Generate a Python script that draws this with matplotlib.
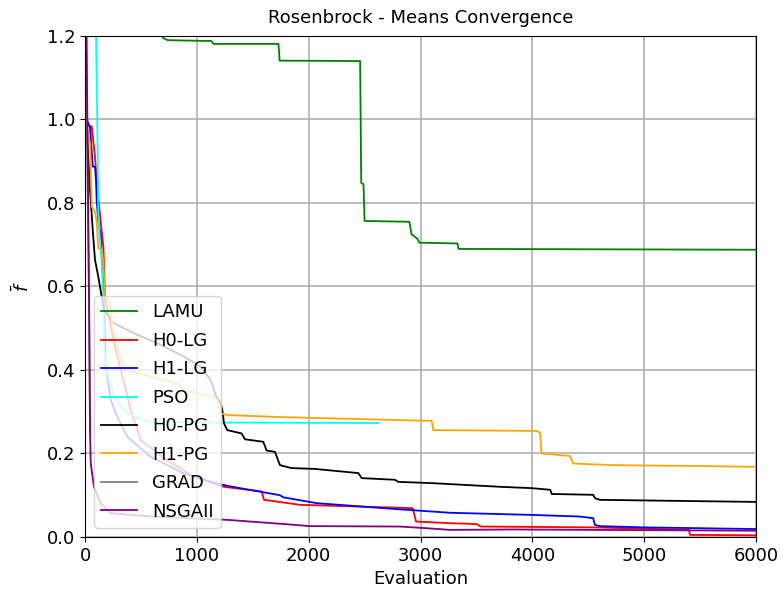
import numpy as np
import matplotlib.pyplot as plt

plt.rcParams['font.size'] = 13

# mean best objective value per evaluation, stored as breakpoints
lamu_x = [0, 690, 700, 740, 1130, 1150, 1730, 1740, 2460, 2470, 2490, 2500, 2900, 2920, 2970, 2990, 3330, 3340, 6000]
lamu_y = [1.30, 1.20, 1.195, 1.19, 1.188, 1.181, 1.181, 1.141, 1.140, 0.848, 0.845, 0.757, 0.755, 0.725, 0.715, 0.705, 0.703, 0.690, 0.688]

h0lg_x = [0, 20, 60, 89, 104, 140, 164, 179, 259, 349, 409, 498, 733, 975, 1243, 1580, 1600, 1922, 2816, 2930, 2960, 3263, 3500, 3540, 4542, 5400, 5410, 6000]
h0lg_y = [1.0, 0.988, 0.983, 0.911, 0.855, 0.755, 0.695, 0.575, 0.465, 0.369, 0.304, 0.232, 0.184, 0.144, 0.120, 0.109, 0.089, 0.077, 0.070, 0.069, 0.037, 0.033, 0.031, 0.025, 0.023, 0.017, 0.005, 0.004]

h1lg_x = [0, 15, 45, 69, 89, 98, 104, 119, 140, 158, 170, 185, 230, 289, 378, 587, 885, 1153, 1281, 1743, 1773, 2071, 2667, 3263, 3978, 4425, 4544, 4559, 4604, 4989, 6000]
h1lg_y = [1.01, 1.0, 0.98, 0.887, 0.887, 0.855, 0.807, 0.755, 0.723, 0.64, 0.575, 0.408, 0.328, 0.288, 0.240, 0.192, 0.152, 0.130, 0.122, 0.100, 0.095, 0.081, 0.069, 0.058, 0.053, 0.049, 0.045, 0.029, 0.026, 0.023, 0.019]

pso_x = [90, 98, 110, 119, 149, 164, 170, 199, 259, 349, 468, 587, 1272, 2622]
pso_y = [1.50, 1.20, 0.99, 0.767, 0.656, 0.575, 0.456, 0.392, 0.336, 0.304, 0.284, 0.276, 0.274, 0.273]

h0pg_x = [0, 15, 45, 69, 89, 119, 149, 155, 170, 259, 437, 646, 885, 1034, 1123, 1168, 1213, 1228, 1243, 1272, 1400, 1430, 1594, 1624, 1698, 1743, 1847, 2056, 2444, 2474, 2772, 2801, 3100, 3726, 3994, 4160, 4174, 4544, 4560, 4604, 5142, 6000]
h0pg_y = [1.0, 0.975, 0.831, 0.735, 0.664, 0.623, 0.575, 0.568, 0.544, 0.512, 0.488, 0.464, 0.432, 0.408, 0.376, 0.340, 0.320, 0.304, 0.272, 0.256, 0.248, 0.234, 0.228, 0.207, 0.204, 0.172, 0.165, 0.163, 0.153, 0.141, 0.137, 0.132, 0.129, 0.120, 0.117, 0.113, 0.103, 0.101, 0.093, 0.089, 0.087, 0.084]

h1pg_x = [0, 15, 45, 60, 89, 104, 119, 149, 164, 179, 215, 259, 319, 378, 587, 825, 885, 1153, 1183, 1213, 1272, 1773, 2816, 3100, 3114, 4038, 4068, 4083, 4336, 4366, 4723, 5500, 6000]
h1pg_y = [1.0, 0.983, 0.943, 0.791, 0.779, 0.755, 0.691, 0.691, 0.656, 0.575, 0.568, 0.488, 0.424, 0.400, 0.384, 0.368, 0.352, 0.336, 0.328, 0.296, 0.292, 0.287, 0.280, 0.278, 0.256, 0.254, 0.250, 0.200, 0.194, 0.176, 0.172, 0.170, 0.168]

grad_x = [0, 20, 36, 45]
grad_y = [1.50, 0.90, 0.560, 0.250]

nsga_x = [0, 36, 45, 51, 80, 140, 230, 587, 1272, 1779, 2012, 2816, 3055, 3263, 3829, 6000]
nsga_y = [1.60, 0.568, 0.248, 0.176, 0.120, 0.081, 0.057, 0.049, 0.041, 0.031, 0.026, 0.025, 0.021, 0.017, 0.018, 0.015]

series = [
    ('LAMU', lamu_x, lamu_y, 'green'),
    ('H0-LG', h0lg_x, h0lg_y, 'red'),
    ('H1-LG', h1lg_x, h1lg_y, 'blue'),
    ('PSO', pso_x, pso_y, 'cyan'),
    ('H0-PG', h0pg_x, h0pg_y, 'black'),
    ('H1-PG', h1pg_x, h1pg_y, 'orange'),
    ('GRAD', grad_x, grad_y, 'grey'),
    ('NSGAII', nsga_x, nsga_y, 'purple'),
]

fig, ax = plt.subplots(figsize=(7.83, 5.94), dpi=100)
fig.subplots_adjust(left=0.1086, right=0.9655, top=0.9394, bottom=0.096)

for name, xs, ys, col in series:
    ax.plot(xs, ys, color=col, lw=1.3, label=name)

ax.set_xlim(0, 6000)
ax.set_ylim(0, 1.2)
ax.grid(True, color='#b0b0b0', lw=1.2)
ax.set_title('Rosenbrock - Means Convergence', fontsize=13, pad=9)
ax.set_xlabel('Evaluation')
ax.set_ylabel(r'$\bar{f}$', labelpad=10)
ax.legend(loc='lower left', framealpha=0.8, labelspacing=0.58)

plt.savefig('out.png', dpi=100)
